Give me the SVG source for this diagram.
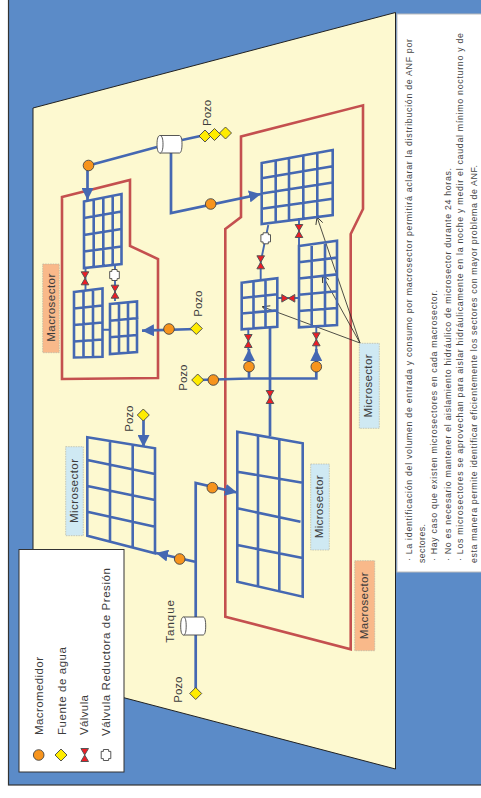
<svg xmlns="http://www.w3.org/2000/svg" width="481" height="798" viewBox="0 0 481 798">
<style>
text{font-family:"Liberation Sans",Arial,sans-serif;fill:#3c3c3c;font-size:11.5px}
.t{font-size:8.8px;fill:#444}
.grid{fill:none;stroke:#4568b2;stroke-width:2.6;stroke-linejoin:miter}
.pipe{fill:none;stroke:#4568b2;stroke-width:2.7}
.thin{fill:none;stroke:#4568b2;stroke-width:1.9}
.macro{fill:none;stroke:#c4504f;stroke-width:2.6}
.m{fill:#f7941d;stroke:#444;stroke-width:.9}
.d{fill:#ffec00;stroke:#444;stroke-width:.9}
.v{fill:#ee1c25;stroke:#555;stroke-width:1}
.p{fill:#fff;stroke:#444;stroke-width:.9}
.tank{fill:#fff;stroke:#444;stroke-width:.9}
.lo{fill:#f9b98a;stroke:#b5b5a5;stroke-width:.7;stroke-dasharray:1.5 1}
.lb{fill:#cfe9f3;stroke:#b5b5a5;stroke-width:.7;stroke-dasharray:1.5 1}
.ptr{fill:none;stroke:#222;stroke-width:.8}
</style>
<defs>
<marker id="arr" viewBox="0 0 10 10" refX="10" refY="5" markerUnits="userSpaceOnUse" markerWidth="12" markerHeight="12" orient="auto"><path d="M0 0L10 5L0 10z" fill="#4568b2"/></marker>
<marker id="open" viewBox="0 0 10 10" refX="10" refY="5" markerUnits="userSpaceOnUse" markerWidth="8" markerHeight="8" orient="auto"><path d="M1 0.5L10 5L1 9.5" fill="none" stroke="#222" stroke-width="1"/></marker>
<g id="valve"><path class="v" d="M-3.8 -6.5H3.8L0 0L3.8 6.5H-3.8L0 0z"/></g>
<g id="prv"><path class="p" d="M-2.6 -5.5H2.6V-3.6H4.8V3.6H2.6V5.5H-2.6V3.6H-4.8V-3.6H-2.6z"/></g>
<circle id="meter" class="m" r="5.3"/>
<path id="well" class="d" d="M0 -6L6 0L0 6L-6 0z"/>
</defs>

<rect id="bg" x="8.5" y="-2" width="474" height="787" fill="#5b8bc8" stroke="#333" stroke-width="1.2"/>
<polygon id="plane" points="33,108 395.5,12.5 395.5,769 125,698 33,674" fill="#fdf9d0" stroke="#222" stroke-width="1"/>
<g id="note">
<rect x="397" y="14" width="86" height="558" fill="#fff" stroke="#bbb" stroke-width="1"/>
<text class="t" transform="translate(411.7,561) rotate(-90)" textLength="522">· La identificación  del volumen de entrada  y consumo por macrosector permitirá  aclarar la distribución de ANF por</text>
<text class="t" transform="translate(425,563) rotate(-90)" textLength="39">sectores.</text>
<text class="t" transform="translate(437.3,561) rotate(-90)" textLength="271">· Hay caso que existen microsectores en cada macrosector.</text>
<text class="t" transform="translate(450.7,561) rotate(-90)" textLength="393">· No es necesario mantener el aislamiento hidráulico de microsector durante 24 horas.</text>
<text class="t" transform="translate(463.3,561) rotate(-90)" textLength="528">· Los microsectores se aprovechan para aislar hidráulicamente en la noche y medir el caudal mínimo nocturno y de</text>
<text class="t" transform="translate(476.7,563) rotate(-90)" textLength="398">esta manera permite identificar eficientemente los sectores con mayor problema de ANF.</text>
</g>

<g id="macrosectors">
<path id="macro-left" class="macro" d="M62 197L130 180V246L158 259V378L62 379z"/>
<path id="macro-right" class="macro" d="M225.3 229L241 217V136.5L363 105.3V209L350.7 234V649.3L225.3 616.7z"/>
</g>

<g id="connectors">
<path class="pipe" d="M88.5 165.5L157 147"/>
<path class="pipe" d="M87.5 165.5V200" marker-end="url(#arr)"/>
<path class="pipe" d="M182 140L205 135"/>
<path class="pipe" d="M171 153V213L261 194" marker-end="url(#arr)"/>
<path class="pipe" d="M196.3 329L142 330.7" marker-end="url(#arr)"/>
<path class="thin" d="M85.5 268V290M115 264V301M102 329.7H110"/>
<path class="thin" d="M268.3 225L260.7 262V279M299 218V246M277.3 298H299M248.3 329V350M316.3 326V350"/>
<path class="pipe" d="M249 366V349" marker-end="url(#arr)"/>
<path class="pipe" d="M316.3 366V349" marker-end="url(#arr)"/>
<path class="pipe" d="M197.7 380L249 378.5H316.3V367M249 378.5V367"/>
<path class="pipe" d="M270 326V436"/>
<path class="pipe" d="M143.5 415V447" marker-end="url(#arr)"/>
<path class="pipe" d="M195.7 693V483L237 492.5" marker-end="url(#arr)"/>
<path class="pipe" d="M195 561.7L156 553" marker-end="url(#arr)"/>
<path class="ptr" d="M360 343L317 217" marker-end="url(#open)"/>
<path class="ptr" d="M360 343L322.3 275" marker-end="url(#open)"/>
<path class="ptr" d="M360 343L262.3 306.7" marker-end="url(#open)"/>
</g>

<g id="grid-a"><path class="grid" d="M84 201.5L121.5 194V264L84 268zM84 218L121.5 211.5M84 235L121.5 229M84 251.5L121.5 246.5M93.7 199.6V267M103.3 197.6V266M112.7 195.7V265"/></g>
<g id="grid-b"><path class="grid" d="M74 292L102.5 288.5V356.7L74 357.5zM74 308.5L102.5 305.5M74 325L102.5 322.5M74 341.5L102.5 339.5M83.5 291V357.2M93 290V357"/></g>
<g id="grid-c"><path class="grid" d="M110 304L137 301.5V352L110 354zM110 320.7L138.5 318M110 337.3L137 335M119 303.2V353.3M128 302.3V352.7"/></g>
<g id="grid-d"><path class="grid" d="M261.7 163L332.7 150V215L261.7 224zM261.7 178.3L332.7 166.3M261.7 193.5L332.7 182.5M261.7 208.8L332.7 198.8M275.7 160.4V222.2M289 158V220.5M303.3 155.4V218.7M317.3 152.8V216.9"/></g>
<g id="grid-e"><path class="grid" d="M299 246L337 240.7V325L299 327.3zM299 262.3L337 257.6M299 278.5L337 274.4M299 294.8L337 291.2M299 311L337 308M311.7 244.2V326.5M325 242.4V325.8"/></g>
<g id="grid-f"><path class="grid" d="M241.7 282.7L277.3 278.3V326.7L241.7 329.3zM241.7 298L277.3 294.3M241.7 313.5L277.3 310.4M253.5 281.2V328.5M265.5 279.7V327.6"/></g>
<g id="grid-g"><path class="grid" d="M237.3 431.7L302.7 443.3V596.7L237.3 581.7zM237.3 471.7L302.7 482.7M237.3 508.3L300.5 521.7M237.3 545L302.7 558M258 435.4V586.5M279.3 439.2V591.3"/></g>
<g id="grid-h"><path class="grid" d="M87.3 437.3L155 448.3V553.3L87.3 535.7zM87.3 460L155 474M87.3 486L155 500M87.3 511.7L155 526.7M110 441V541.5M132.7 444.6V547.5"/></g>

<g id="tank-top"><path class="tank" d="M160 135.5H179.5C181 135.5 182 139 182 144.2C182 149.5 181 153 179.5 153H160C158 153 157 149.5 157 144.2C157 139 158 135.5 160 135.5z"/><path class="tank" d="M160 135.5C162 135.5 163 139 163 144.2C163 149.5 162 153 160 153"/></g>
<g id="tank-bottom"><path class="tank" d="M183.5 617H203C205 617 205.7 621 205.7 626C205.7 631 205 635 203 635H183.5C181.5 635 180.7 631 180.7 626C180.7 621 181.5 617 183.5 617z"/><path class="tank" d="M183.5 617C185.5 617 186.2 621 186.2 626C186.2 631 185.5 635 183.5 635"/></g>

<g id="wells">
<use href="#well" x="205" y="136"/><use href="#well" x="214.5" y="134.5"/><use href="#well" x="225.5" y="133"/>
<use href="#well" x="196.3" y="328.5"/><use href="#well" x="197.7" y="380"/><use href="#well" x="143.3" y="415"/><use href="#well" x="195.7" y="693.5"/>
</g>
<g id="meters">
<use href="#meter" x="88.5" y="165.5"/><use href="#meter" x="210.7" y="204"/><use href="#meter" x="169" y="329"/><use href="#meter" x="213.3" y="380"/>
<use href="#meter" x="249" y="366.7"/><use href="#meter" x="316.3" y="366.7"/><use href="#meter" x="212.3" y="487.7"/><use href="#meter" x="179.7" y="559"/>
</g>
<g id="valves">
<use href="#valve" x="85" y="278.3"/><use href="#valve" x="115" y="291.7"/><use href="#valve" x="299" y="231"/><use href="#valve" x="260.7" y="262.3"/>
<use href="#valve" transform="translate(288.3,298.3) rotate(90)"/><use href="#valve" x="248.3" y="341"/><use href="#valve" x="316.3" y="339.3"/><use href="#valve" x="270" y="397"/>
</g>
<g id="prvs"><use href="#prv" x="114.5" y="275"/><use href="#prv" x="265.7" y="238.3"/></g>

<g id="labels">
<rect class="lo" x="42.7" y="264" width="16.6" height="88.7"/><text transform="translate(55,341.7) rotate(-90)" textLength="68">Macrosector</text>
<rect class="lo" x="354.7" y="560.7" width="20" height="90"/><text transform="translate(367.7,639.3) rotate(-90)" textLength="67">Macrosector</text>
<rect class="lb" x="359.3" y="343.3" width="20" height="85"/><text transform="translate(372.3,417.5) rotate(-90)" textLength="63">Microsector</text>
<rect class="lb" x="310.7" y="464" width="18.6" height="86"/><text transform="translate(323.3,538.3) rotate(-90)" textLength="63">Microsector</text>
<rect class="lb" x="65.7" y="446.7" width="17.6" height="89"/><text transform="translate(78.3,523) rotate(-90)" textLength="64">Microsector</text>
<text transform="translate(210.7,126) rotate(-90)">Pozo</text>
<text transform="translate(201.7,316.7) rotate(-90)">Pozo</text>
<text transform="translate(186.7,390.7) rotate(-90)">Pozo</text>
<text transform="translate(132.7,431.7) rotate(-90)">Pozo</text>
<text transform="translate(182.3,702.7) rotate(-90)">Pozo</text>
<text transform="translate(174.3,642.7) rotate(-90)" textLength="42.7">Tanque</text>
</g>

<g id="legend">
<rect x="19" y="549.5" width="105" height="222.5" fill="#fff" stroke="#333" stroke-width="1"/>
<use href="#meter" x="38.7" y="755"/><use href="#well" x="61" y="755"/><use href="#valve" x="84.7" y="755"/><use href="#prv" x="106" y="755"/>
<text transform="translate(43,735) rotate(-90)" textLength="78">Macromedidor</text>
<text transform="translate(65.5,735) rotate(-90)" textLength="88">Fuente de agua</text>
<text transform="translate(88,735) rotate(-90)" textLength="40">Válvula</text>
<text transform="translate(110,736) rotate(-90)" textLength="168">Válvula Reductora de Presión</text>
</g>
</svg>
